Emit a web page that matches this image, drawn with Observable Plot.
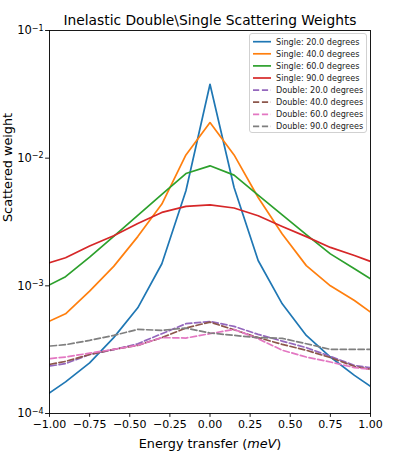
<!DOCTYPE html>
<html><head><meta charset="utf-8">
<script src="https://cdn.jsdelivr.net/npm/d3@7"></script>
<script src="https://cdn.jsdelivr.net/npm/@observablehq/plot@0.6"></script>
<style>
body{margin:0;background:#fff;}
#chart{width:395px;height:459px;}
</style>
</head><body><div id="chart"></div>
<script>
// ---- data ----
const energy = [-1.05, -0.9, -0.75, -0.6, -0.45, -0.3, -0.15, 0, 0.15, 0.3, 0.45, 0.6, 0.75, 0.9, 1.05];
const single20 = [1.31e-4, 1.77e-4, 2.49e-4, 3.93e-4, 6.73e-4, 1.49e-3, 5.55e-3, 0.0379, 5.89e-3, 1.58e-3, 7.23e-4, 4.09e-4, 2.77e-4, 1.99e-4, 1.48e-4];
const single40 = [4.95e-4, 6.04e-4, 9.08e-4, 1.42e-3, 2.43e-3, 4.37e-3, 0.0106, 0.019, 0.0106, 4.92e-3, 2.55e-3, 1.44e-3, 1.0e-3, 7.67e-4, 5.6e-4];
const single60 = [9.44e-4, 1.18e-3, 1.68e-3, 2.44e-3, 3.56e-3, 5.2e-3, 7.58e-3, 8.71e-3, 7.36e-3, 5.14e-3, 3.59e-3, 2.52e-3, 1.78e-3, 1.36e-3, 1.04e-3];
const single90 = [1.45e-3, 1.66e-3, 2.05e-3, 2.47e-3, 3.08e-3, 3.76e-3, 4.19e-3, 4.3e-3, 4.07e-3, 3.54e-3, 2.92e-3, 2.43e-3, 2.0e-3, 1.73e-3, 1.47e-3];
const double20 = [2.30e-4, 2.46e-4, 2.9e-4, 3.16e-4, 3.52e-4, 4.22e-4, 5.05e-4, 5.26e-4, 4.81e-4, 4.17e-4, 3.69e-4, 3.28e-4, 2.8e-4, 2.38e-4, 2.24e-4];
const double40 = [2.36e-4, 2.56e-4, 2.9e-4, 3.18e-4, 3.42e-4, 3.93e-4, 4.67e-4, 5.2e-4, 4.53e-4, 3.93e-4, 3.48e-4, 3.13e-4, 2.74e-4, 2.34e-4, 2.16e-4];
const double60 = [2.65e-4, 2.77e-4, 2.97e-4, 3.18e-4, 3.42e-4, 3.93e-4, 3.9e-4, 4.22e-4, 4.56e-4, 3.85e-4, 3.13e-4, 2.77e-4, 2.53e-4, 2.29e-4, 2.18e-4];
const double90 = [3.33e-4, 3.46e-4, 3.74e-4, 4.09e-4, 4.56e-4, 4.48e-4, 4.67e-4, 4.27e-4, 4.09e-4, 3.93e-4, 3.88e-4, 3.52e-4, 3.18e-4, 3.18e-4, 3.18e-4];

const seriesNames = ["Single: 20.0 degrees", "Single: 40.0 degrees", "Single: 60.0 degrees", "Single: 90.0 degrees",
                     "Double: 20.0 degrees", "Double: 40.0 degrees", "Double: 60.0 degrees", "Double: 90.0 degrees"];
const seriesValues = [single20, single40, single60, single90, double20, double40, double60, double90];
const seriesColors = ["#1f77b4", "#ff7f0e", "#2ca02c", "#d62728", "#9467bd", "#8c564b", "#e377c2", "#7f7f7f"];
const xTicks = [-1, -0.75, -0.5, -0.25, 0, 0.25, 0.5, 0.75, 1];
const yTicks = [1e-4, 1e-3, 1e-2, 1e-1];
const yTickExponents = ["\u22124", "\u22123", "\u22122", "\u22121"];
const titleText = "Inelastic Double\\Single Scattering Weights";
const xLabel = "Energy transfer (meV)";
const yLabel = "Scattered weight";

// ---- table ----
const rows = [];
seriesNames.forEach((name, i) => {
  energy.forEach((e, j) => rows.push({series: name, kind: name.startsWith("Single") ? "single" : "double", x: e, y: seriesValues[i][j]}));
});
const singles = rows.filter(d => d.kind === "single");
const doubles = rows.filter(d => d.kind === "double");

const FONT = "DejaVu Sans, sans-serif";
const chart = Plot.plot({
  width: 395, height: 459,
  marginLeft: 49, marginRight: 25, marginTop: 30, marginBottom: 46,
  style: {fontFamily: FONT, fontSize: "11px", background: "white", color: "black", overflow: "visible"},
  x: {domain: [-1, 1]},
  y: {type: "log", domain: [1e-4, 1e-1]},
  color: {domain: seriesNames, range: seriesColors},
  marks: [
    Plot.line(singles, {x: "x", y: "y", z: "series", stroke: "series", strokeWidth: 1.7, clip: true}),
    Plot.line(doubles, {x: "x", y: "y", z: "series", stroke: "series", strokeWidth: 1.7, strokeDasharray: "6.2,2.7", clip: true}),
    Plot.frame({stroke: "black", strokeWidth: 0.9}),
    Plot.axisX({ticks: xTicks, tickSize: 3.9, tickPadding: 2.5, strokeWidth: 0.9,
      tickFormat: d => d.toFixed(2).replace("-", "\u2212"), fontSize: 11,
      label: null}),
    Plot.axisY({ticks: yTicks, tickSize: 3.9, tickPadding: 2, strokeWidth: 0.9,
      tickFormat: d => "10^" + yTickExponents[yTicks.indexOf(d)], fontSize: 11.5,
      label: null}),
    Plot.text([xLabel], {frameAnchor: "bottom", dy: 34, fontSize: 12.8, text: d => d}),
    Plot.text([yLabel], {frameAnchor: "left", dx: -42, rotate: -90, fontSize: 12.8, text: d => d}),
    Plot.text([titleText], {frameAnchor: "top", dy: -6, lineAnchor: "bottom", fontSize: 13.8, text: d => d})
  ]
});
document.getElementById("chart").appendChild(chart);

const svg = d3.select(chart);
// italic "meV" in x label, superscript exponents on y ticks
svg.selectAll("text").each(function() {
  const s = this.textContent;
  const t = d3.select(this);
  if (s === xLabel) {
    t.text(null);
    t.append("tspan").text("Energy transfer (");
    t.append("tspan").attr("font-style", "italic").text("meV");
    t.append("tspan").text(")");
  } else if (s.startsWith("10^")) {
    t.text(null);
    t.append("tspan").text("10");
    t.append("tspan").attr("font-size", "8px").attr("dy", "-0.45em").text(s.slice(3));
  }
});

// legend (layout only)
const lg = svg.append("g").attr("font-family", FONT).attr("font-size", 8.1).attr("text-anchor", "start");
const lx = 249, ly = 33, lw = 117, rowH = 12.1;
lg.append("rect").attr("x", lx + 0.5).attr("y", ly + 0.5).attr("width", lw).attr("height", 99)
  .attr("rx", 2.5).attr("fill", "white").attr("fill-opacity", 0.8).attr("stroke", "#cccccc").attr("stroke-width", 0.9);
seriesNames.forEach((name, i) => {
  const yy = ly + 8.7 + i * rowH;
  lg.append("line").attr("x1", lx + 4).attr("x2", lx + 22).attr("y1", yy).attr("y2", yy)
    .attr("stroke", seriesColors[i]).attr("stroke-width", 1.7)
    .attr("stroke-dasharray", name.startsWith("Double") ? "6.2,2.7" : null);
  lg.append("text").attr("x", lx + 27).attr("y", yy).attr("dy", "0.35em").attr("fill", "#222").text(name);
});
</script></body></html>
